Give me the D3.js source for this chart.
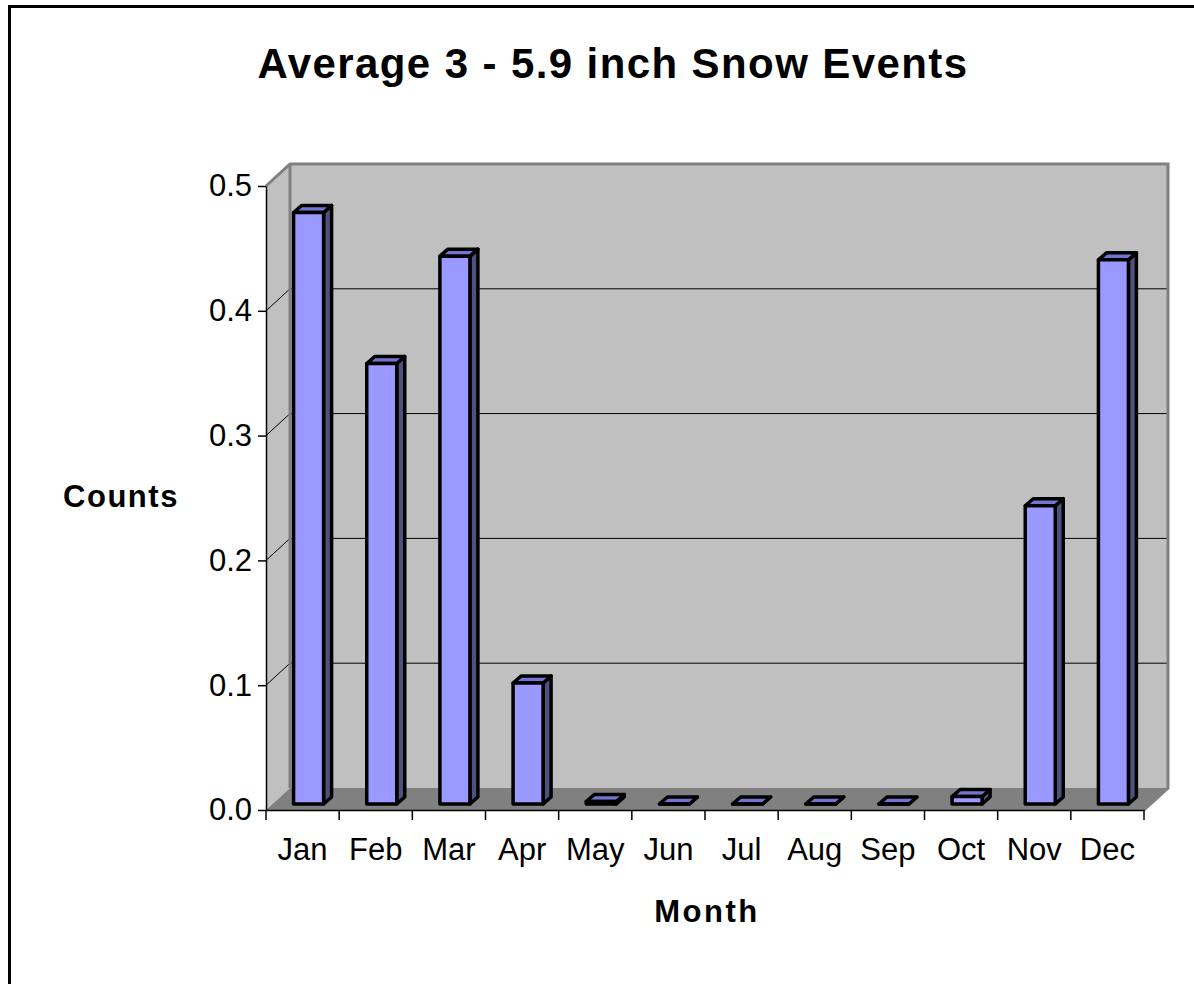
<!DOCTYPE html>
<html>
<head>
<meta charset="utf-8">
<script src="https://cdn.jsdelivr.net/npm/d3@7"></script>
<style>
  html, body { margin: 0; padding: 0; background: #fff; }
  svg { display: block; }
  text { font-family: "Liberation Sans", Arial, sans-serif; }
</style>
</head>
<body>
<svg id="chart" width="1194" height="984"></svg>
<script>
const months = ["Jan","Feb","Mar","Apr","May","Jun","Jul","Aug","Sep","Oct","Nov","Dec"];
const counts = [0.474, 0.353, 0.439, 0.097, 0.002, 0, 0, 0, 0, 0.006, 0.239, 0.436];
const yTicks = [0, 0.1, 0.2, 0.3, 0.4, 0.5];
const titleText = "Average 3 - 5.9 inch Snow Events";
const yTitle = "Counts";
const xTitle = "Month";

const svg = d3.select("#chart");

// outer frame
svg.append("rect").attr("x", 9.5).attr("y", 6.5).attr("width", 1300).attr("height", 1100)
  .attr("fill", "#fff").attr("stroke", "#000").attr("stroke-width", 3);

// plot geometry (front plane)
const X0 = 266, X1 = 1144, Y0 = 810, YT = 186;
const DX = 24, DY = -22;            // depth of walls
const BOX = 6, BOY = -6;            // bar front offset into depth
const BDX = 8, BDY = -7;            // bar depth

const x = d3.scaleBand().domain(months).range([X0, X1]);
const y = d3.scaleLinear().domain([0, 0.5]).range([Y0, YT]);

const poly = pts => pts.map(p => p.join(",")).join(" ");

// side wall
svg.append("polygon")
  .attr("points", poly([[X0, y(0.5)], [X0 + DX, y(0.5) + DY], [X0 + DX, Y0 + DY], [X0, Y0]]))
  .attr("fill", "#c0c0c0");
// back wall
svg.append("polygon")
  .attr("points", poly([[X0 + DX, y(0.5) + DY], [X1 + DX, y(0.5) + DY], [X1 + DX, Y0 + DY], [X0 + DX, Y0 + DY]]))
  .attr("fill", "#c0c0c0");
// floor
svg.append("polygon")
  .attr("points", poly([[X0, Y0], [X1, Y0], [X1 + DX, Y0 + DY], [X0 + DX, Y0 + DY]]))
  .attr("fill", "#808080");

// gridlines
const grid = yTicks.filter(t => t > 0 && t < 0.5);
svg.append("g").selectAll("line.gb").data(grid).join("line")
  .attr("x1", X0 + DX).attr("x2", X1 + DX)
  .attr("y1", d => y(d) + DY).attr("y2", d => y(d) + DY)
  .attr("stroke", "#000").attr("stroke-width", 1);
svg.append("g").selectAll("line.gs").data(grid).join("line")
  .attr("x1", X0).attr("x2", X0 + DX)
  .attr("y1", d => y(d)).attr("y2", d => y(d) + DY)
  .attr("stroke", "#000").attr("stroke-width", 1);

// wall edges
svg.append("polyline")
  .attr("points", poly([[X0, y(0.5)], [X0 + DX, y(0.5) + DY], [X1 + DX, y(0.5) + DY], [X1 + DX, Y0 + DY], [X1, Y0]]))
  .attr("fill", "none").attr("stroke", "#808080").attr("stroke-width", 3);
svg.append("line")
  .attr("x1", X0 + DX).attr("x2", X0 + DX).attr("y1", y(0.5) + DY).attr("y2", Y0 + DY)
  .attr("stroke", "#808080").attr("stroke-width", 3);

// bars
const bw = 30;
const bars = svg.append("g");
months.forEach((m, i) => {
  const v = counts[i];
  const l = x(m) + (x.bandwidth() - bw) / 2 + BOX;
  const r = l + bw;
  const b = y(0) + BOY;
  const t = y(v) + BOY;
  const g = bars.append("g").attr("stroke", "#000").attr("stroke-width", 3.5).attr("stroke-linejoin", "round");
  // side
  g.append("polygon").attr("points", poly([[r, t], [r + BDX, t + BDY], [r + BDX, b + BDY], [r, b]])).attr("fill", "#50507f");
  // top
  g.append("polygon").attr("points", poly([[l, t], [l + BDX, t + BDY], [r + BDX, t + BDY], [r, t]])).attr("fill", "#7373d0");
  // front
  g.append("polygon").attr("points", poly([[l, t], [r, t], [r, b], [l, b]])).attr("fill", "#9999ff");
});

// y axis
const yAxis = d3.axisLeft(y).tickValues(yTicks).tickFormat(d3.format(".1f"))
  .tickSizeInner(8).tickSizeOuter(0).tickPadding(6);
const gy = svg.append("g").attr("transform", `translate(${X0},0)`).call(yAxis);
gy.selectAll("path.domain").attr("stroke", "#000").attr("stroke-width", 1.5);
gy.selectAll(".tick line").attr("stroke", "#000").attr("stroke-width", 1.5);
gy.selectAll("text").attr("font-size", 31).attr("fill", "#000")
  .attr("font-family", "'Liberation Sans', Arial, sans-serif");

// x axis
const xAxis = d3.axisBottom(x).tickSize(0).tickPadding(28);
const gx = svg.append("g").attr("transform", `translate(0,${Y0})`).call(xAxis);
gx.selectAll("path.domain").attr("stroke", "#000").attr("stroke-width", 1.5);
gx.selectAll("text").attr("font-size", 31).attr("fill", "#000")
  .attr("font-family", "'Liberation Sans', Arial, sans-serif");
const bounds = months.map(m => x(m)).concat([x.range()[1]]);
svg.append("g").selectAll("line").data(bounds).join("line")
  .attr("x1", d => d).attr("x2", d => d).attr("y1", Y0).attr("y2", Y0 + 10)
  .attr("stroke", "#000").attr("stroke-width", 1.5);

// titles
svg.append("text").attr("x", 613).attr("y", 78).attr("text-anchor", "middle")
  .attr("font-size", 42).attr("font-weight", "bold").attr("letter-spacing", 1.4).text(titleText);
svg.append("text").attr("x", 121).attr("y", 507).attr("text-anchor", "middle")
  .attr("font-size", 31).attr("font-weight", "bold").attr("letter-spacing", 1.5).text(yTitle);
svg.append("text").attr("x", 707).attr("y", 922).attr("text-anchor", "middle")
  .attr("font-size", 31).attr("font-weight", "bold").attr("letter-spacing", 2.5).text(xTitle);
</script>
</body>
</html>
